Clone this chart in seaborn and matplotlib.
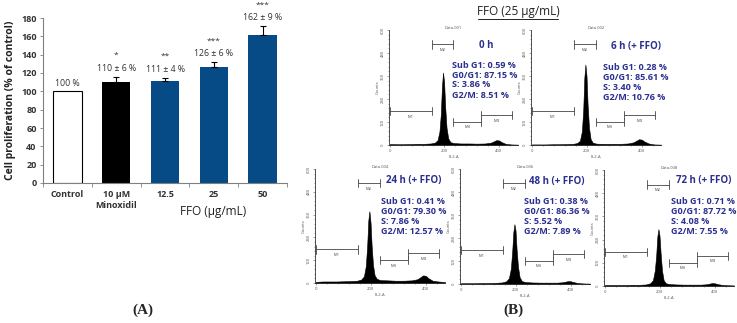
import numpy as np
import pandas as pd
import matplotlib
matplotlib.use("Agg")
import matplotlib.pyplot as plt
import seaborn as sns
from matplotlib.lines import Line2D
from matplotlib.ticker import MultipleLocator

# ---------------- Panel A data ----------------
categories = ["Control", "10 μM\nMinoxidil", "12.5", "25", "50"]
proliferation = [100, 110, 111, 126, 162]
sem = [0, 6, 4, 6, 9]
value_labels = ["100 %", "110 ± 6 %", "111 ± 4 %", "126 ± 6 %", "162 ± 9 %"]
significance = ["", "*", "**", "***", "***"]
bar_colors = ["#ffffff", "#000000", "#064b86", "#064b86", "#064b86"]

# ---------------- Panel B data ----------------
fl2_bins = [0, 25, 50, 75, 100, 125, 150, 165, 175, 182, 187, 191, 195, 199,
            203, 208, 214, 222, 235, 260, 290, 320, 350, 370, 380, 390, 400,
            410, 425, 445, 470]
counts_0h = [5, 4, 4, 5, 6, 6, 8, 12, 25, 70, 160, 300, 378, 330, 200, 90, 35,
             15, 10, 8, 8, 7, 8, 12, 18, 25, 24, 15, 6, 3, 2]
counts_6h = [3, 3, 3, 4, 4, 5, 6, 10, 22, 70, 180, 350, 420, 360, 210, 90, 30,
             12, 7, 6, 6, 6, 8, 14, 22, 30, 28, 18, 8, 3, 2]
counts_24h = [6, 8, 8, 8, 9, 10, 12, 18, 35, 90, 200, 330, 378, 320, 200, 95,
              40, 22, 15, 14, 12, 12, 14, 20, 30, 40, 38, 25, 12, 8, 5]
counts_48h = [4, 4, 4, 5, 5, 6, 8, 14, 30, 80, 170, 270, 312, 280, 180, 90, 35,
              15, 10, 8, 7, 7, 7, 9, 12, 15, 14, 10, 5, 3, 2]
counts_72h = [5, 5, 5, 5, 6, 6, 8, 14, 30, 80, 160, 255, 294, 260, 170, 80, 30,
              14, 10, 8, 7, 7, 7, 9, 12, 15, 14, 10, 6, 4, 3]
time_labels = ["0 h", "6 h (+ FFO)", "24 h (+ FFO)", "48 h (+ FFO)", "72 h (+ FFO)"]
sub_g1 = [0.59, 0.28, 0.41, 0.38, 0.71]
g0_g1 = [87.15, 85.61, 79.30, 86.36, 87.72]
s_phase = [3.86, 3.40, 7.86, 5.52, 4.08]
g2_m = [8.51, 10.76, 12.57, 7.89, 7.55]
data_files = ["Data.001", "Data.002", "Data.004", "Data.006", "Data.008"]
gate_names = ["M1", "M2", "M3", "M4"]
gate_start = [0, 153, 233, 335]
gate_end = [153, 233, 335, 447]
gate_level = [177, 525, 120, 156]

all_counts = [counts_0h, counts_6h, counts_24h, counts_48h, counts_72h]

# ---------------- figure ----------------
sns.set_style("ticks")
plt.rcParams["font.family"] = ["Open Sans", "DejaVu Sans"]

W, H = 737, 323
fig = plt.figure(figsize=(W / 100, H / 100), dpi=100)


def axes_px(l, t, r, b):
    return fig.add_axes([l / W, 1 - b / H, (r - l) / W, (b - t) / H])


def fpt(x, y):
    return x / W, 1 - y / H


# ---- Panel A ----
ax = axes_px(43, 18, 287, 183)
df = pd.DataFrame({"cat": categories, "val": proliferation})
sns.barplot(data=df, x="cat", y="val", hue="cat", palette=bar_colors,
            legend=False, width=0.58, ax=ax, saturation=1)
for i, p in enumerate(ax.patches):
    if i == 0:
        p.set_edgecolor("black")
        p.set_linewidth(0.8)
    else:
        p.set_edgecolor("none")
idx = [i for i in range(len(sem)) if sem[i] > 0]
ax.errorbar(idx, [proliferation[i] for i in idx],
            yerr=[[0] * len(idx), [sem[i] for i in idx]],
            fmt="none", ecolor="black", elinewidth=0.8, capsize=2.5,
            capthick=0.8)
for i in range(len(categories)):
    top = proliferation[i] + sem[i]
    ax.text(i, top + 9, value_labels[i], ha="center", va="center",
            fontsize=6.3, color="#333333")
    if significance[i]:
        ax.text(i, top + 23, significance[i], ha="center", va="center",
                fontsize=6, color="#333333")
ax.set_ylim(0, 180)
ax.set_xlim(-0.5, 4.5)
ax.yaxis.set_major_locator(MultipleLocator(20))
ax.set_xticks(np.arange(-0.5, 5, 1))
ax.set_xticklabels([])
ax.set_xticks(range(len(categories)), minor=True)
ax.set_xticklabels(categories, minor=True, fontsize=6.5, fontweight="bold",
                   color="#333333", linespacing=1.3)
ax.tick_params(axis="x", which="minor", length=0, pad=5)
ax.tick_params(axis="x", which="major", length=3, width=0.6, color="#808080")
ax.tick_params(axis="y", length=2.5, width=0.6, color="#808080", pad=2,
               labelsize=6.5)
for lab in ax.get_yticklabels():
    lab.set_fontweight("bold")
    lab.set_color("#333333")
ax.set_xlabel("")
ax.set_ylabel("")
for s in ["top", "right"]:
    ax.spines[s].set_visible(False)
for s in ["left", "bottom"]:
    ax.spines[s].set_color("#808080")
    ax.spines[s].set_linewidth(0.8)

fig.text(*fpt(11, 100), "Cell proliferation (% of control)", rotation=90,
         ha="center", va="center", fontsize=7.5, fontweight="bold",
         color="#222222")
fig.text(*fpt(213, 212), "FFO (μg/mL)", ha="center", va="center",
         fontsize=8.5, color="#222222")
fig.text(*fpt(143, 310), "(A)", ha="center", va="center", fontsize=11,
         fontweight="bold", family=["Liberation Serif", "DejaVu Serif"])
fig.text(*fpt(513, 310), "(B)", ha="center", va="center", fontsize=11,
         fontweight="bold", family=["Liberation Serif", "DejaVu Serif"])

# ---- Panel B ----
t = fig.text(*fpt(518, 12), "FFO (25 μg/mL)", ha="center", va="center",
             fontsize=8.5, color="#222222")
fig.add_artist(Line2D([478 / W, 558 / W], [1 - 19 / H, 1 - 19 / H],
                      color="#222222", linewidth=0.7))

hist_boxes = [(389, 30, 518, 145), (531, 30, 661, 145), (315, 169, 445, 283),
              (460, 169, 590, 284), (604, 170, 734, 286)]
title_pos = [(486, 46), (636, 47), (414, 181), (557, 182), (704, 181)]
stats_pos = [(452, 65), (603, 67), (381, 201), (524, 202), (671, 201)]
navy = "#2b2f8f"

for k in range(5):
    hx = axes_px(*hist_boxes[k])
    hx.set_facecolor("none")
    hx.fill_between(fl2_bins, all_counts[k], color="black", linewidth=0.4)
    hx.set_xlim(-3, 470)
    hx.set_ylim(0, 600)
    hx.set_xticks([0, 200, 400])
    hx.xaxis.set_minor_locator(MultipleLocator(40))
    hx.set_yticks([0, 120, 240, 360, 480, 600])
    hx.yaxis.set_minor_locator(MultipleLocator(24))
    hx.tick_params(which="both", labelsize=3, colors="#555555", length=1.5,
                   width=0.4, pad=1.5)
    hx.tick_params(which="minor", length=1)
    for lab in hx.get_yticklabels():
        lab.set_rotation(90)
        lab.set_va("center")
    for s in ["top", "right"]:
        hx.spines[s].set_visible(False)
    for s in ["left", "bottom"]:
        hx.spines[s].set_linewidth(0.6)
        hx.spines[s].set_color("#333333")
    hx.set_xlabel("FL2-A", fontsize=3, color="#555555", labelpad=1)
    hx.set_ylabel("Counts", fontsize=3, color="#555555", labelpad=1)
    hx.text(0.5, 1.0, data_files[k], transform=hx.transAxes, ha="center",
            va="bottom", fontsize=3, color="#555555")
    for g in range(4):
        s0, e0, lv = gate_start[g], gate_end[g], gate_level[g]
        hx.plot([s0, e0], [lv, lv], color="#444444", linewidth=0.6)
        hx.plot([s0, s0], [lv - 22, lv + 22], color="#444444", linewidth=0.6)
        hx.plot([e0, e0], [lv - 22, lv + 22], color="#444444", linewidth=0.6)
        hx.text((s0 + e0) / 2, lv - 18, gate_names[g], ha="center", va="top",
                fontsize=3, color="#444444")
    fig.text(*fpt(*title_pos[k]), time_labels[k], ha="center", va="center",
             fontsize=7, fontweight="bold", color=navy)
    lines = [f"Sub G1: {sub_g1[k]:.2f} %", f"G0/G1: {g0_g1[k]:.2f} %",
             f"S: {s_phase[k]:.2f} %", f"G2/M: {g2_m[k]:.2f} %"]
    sx, sy = stats_pos[k]
    for j, ln in enumerate(lines):
        fig.text(*fpt(sx, sy + 10 * j), ln, ha="left", va="center",
                 fontsize=6.5, fontweight="bold", color=navy)

fig.savefig("out.png", dpi=100)
